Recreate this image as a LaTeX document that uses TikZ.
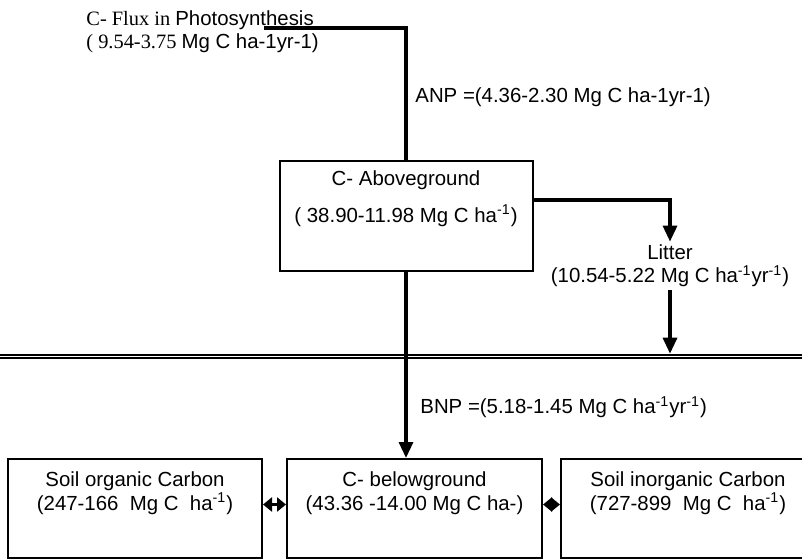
\documentclass[tikz,border=0pt]{standalone}
\usepackage{fontspec}
\setmainfont{Liberation Sans}
\newfontfamily\timesfont{Liberation Serif}
\newfontfamily\arialfont{Liberation Sans}
\usetikzlibrary{arrows.meta,positioning}

\begin{document}
\begin{tikzpicture}[x=1pt, y=-1pt, font=\fontsize{10.2}{11.5}\selectfont,
    box/.style={draw, rectangle, line width=1pt, minimum width=127pt},
    txt/.style={inner sep=0pt, align=center},
    link/.style={line width=1.6pt},
    flow/.style={line width=1.6pt, -{Triangle[length=8pt,width=7pt]}},
    trade/.style={line width=1.5pt, {Triangle[length=4.5pt,width=7pt]}-{Triangle[length=4.5pt,width=7pt]}}]
    \useasboundingbox (0,0) rectangle (401,279.5);

    % Aboveground pool
    \node (Above) [box, minimum width=126.5pt, minimum height=55pt, anchor=north] at (203,80) {};
    \node (AboveText) [txt, below=5pt of Above.north] {C- Aboveground\\[7pt]( 38.90-11.98 Mg C ha\textsuperscript{-1})};

    % Photosynthesis input
    \node (Flux) [txt, align=left, anchor=north west] at (43,5.3) {\timesfont C- Flux in \arialfont Photosynthesis\\\timesfont ( 9.54-3.75 \arialfont Mg C ha-1yr-1)};
    \coordinate (FluxStart) at (132,14);
    \node (ANP) [txt, anchor=west] at (207.5,48.5) {ANP =(4.36-2.30 Mg C ha-1yr-1)};

    % Litter
    \node (Litter) [txt, inner sep=1.5pt] at (335,133) {Litter\\(10.54-5.22 Mg C ha\textsuperscript{-1}yr\textsuperscript{-1})};

    % Soil surface
    \coordinate (GroundW) at (-2,178.25);
    \coordinate (GroundE) at (403,178.25);

    % Belowground pools
    \node (Below) [box, minimum width=127.5pt, minimum height=49.5pt, anchor=north] at (207.25,229) {};
    \node (SoilOrg) [box, minimum height=49.5pt, left=11.5pt of Below] {};
    \node (SoilInorg) [box, minimum height=49.5pt, right=8.5pt of Below] {};
    \node (BelowText) [txt, below=6.5pt of Below.north] {C- belowground\\[0.5pt](43.36 -14.00 Mg C ha-)};
    \node (SoilOrgText) [txt, below=6.5pt of SoilOrg.north] {Soil organic Carbon\\[0.5pt](247-166\ \ Mg C\ \ ha\textsuperscript{-1})};
    \node (SoilInorgText) [txt, below=6.5pt of SoilInorg.north] {Soil inorganic Carbon\\[0.5pt](727-899\ \ Mg C\ \ ha\textsuperscript{-1})};
    \node (BNP) [txt, anchor=west] at (210,203.5) {BNP =(5.18-1.45 Mg C ha\textsuperscript{-1}yr\textsuperscript{-1})};

    % Arrows
    \draw[link] (FluxStart) -| (Above.north);
    \draw[flow] ([yshift=8pt]Above.east) -| (Litter.north);
    \draw[line width=1pt, double, double distance=0.9pt] (GroundW) -- (GroundE);
    \draw[flow, shorten >=1.4pt] (Litter.south) -- (Litter.south |- GroundE);
    \draw[flow] (Above.south) -- (Above.south |- Below.north);
    \draw[trade] ([yshift=2pt]SoilOrg.east) -- ([yshift=2pt]Below.west);
    \draw[trade] ([yshift=2pt]Below.east) -- ([yshift=2pt]SoilInorg.west);

\end{tikzpicture}
\end{document}
